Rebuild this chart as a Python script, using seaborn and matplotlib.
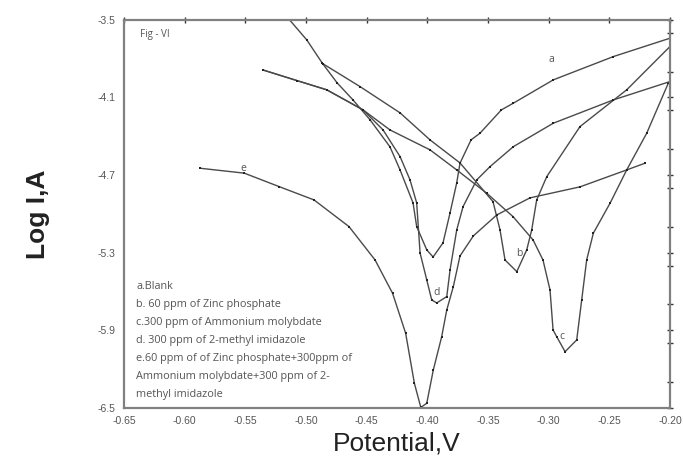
import numpy as np
import pandas as pd
import seaborn as sns
import matplotlib.pyplot as plt
from matplotlib.ticker import MultipleLocator

# Curvas de polarizacion (potencial en V, log I)
a_v = [-0.5136, -0.4994, -0.4868, -0.4744, -0.4613, -0.4472, -0.4308, -0.4225, -0.4118, -0.4088, -0.4005, -0.3953,
       -0.3871, -0.3813, -0.3758, -0.3731, -0.3640, -0.3566, -0.3390, -0.3291, -0.2962, -0.2467, -0.2000]
a_logi = [-3.50, -3.655, -3.832, -3.987, -4.119, -4.273, -4.482, -4.660, -4.915, -5.098, -5.278, -5.333,
          -5.224, -4.992, -4.760, -4.608, -4.428, -4.376, -4.196, -4.144, -3.964, -3.784, -3.642]

b_v = [-0.4860, -0.4555, -0.4225, -0.3978, -0.3731, -0.3459, -0.3401, -0.3360, -0.3263,
       -0.3181, -0.3140, -0.3099, -0.3016, -0.2742, -0.2357, -0.2000]
b_logi = [-3.840, -4.016, -4.219, -4.428, -4.606, -4.905, -5.124, -5.356, -5.446,
          -5.278, -5.124, -4.892, -4.712, -4.325, -4.041, -3.706]

c_v = [-0.5357, -0.5077, -0.4829, -0.4530, -0.4308, -0.3978, -0.3758, -0.3511, -0.3294, -0.3129, -0.3047,
       -0.2989, -0.2964, -0.2934, -0.2865, -0.2769, -0.2728, -0.2687, -0.2632, -0.2494, -0.2357, -0.2192, -0.2014]
c_logi = [-3.887, -3.969, -4.041, -4.196, -4.351, -4.505, -4.660, -4.840, -5.021, -5.201, -5.356,
          -5.588, -5.897, -5.949, -6.065, -5.974, -5.665, -5.356, -5.149, -4.917, -4.660, -4.376, -3.989]

d_v = [-0.5357, -0.5077, -0.4829, -0.4530, -0.4365, -0.4225, -0.4143, -0.4088, -0.4060, -0.4005, -0.3964, -0.3923,
       -0.3840, -0.3813, -0.3758, -0.3706, -0.3593, -0.3483, -0.3291, -0.2962, -0.2467, -0.2000]
d_logi = [-3.887, -3.969, -4.041, -4.196, -4.351, -4.557, -4.737, -4.915, -5.302, -5.510, -5.665, -5.688,
          -5.639, -5.433, -5.124, -4.944, -4.737, -4.634, -4.480, -4.299, -4.119, -3.977]

e_v = [-0.5874, -0.5509, -0.5222, -0.4934, -0.4646, -0.4431, -0.4287, -0.4179, -0.4107, -0.4054,
       -0.4005, -0.3951, -0.3882, -0.3840, -0.3786, -0.3731, -0.3621, -0.3428, -0.3154, -0.2742, -0.2357, -0.2206]
e_logi = [-4.647, -4.685, -4.789, -4.892, -5.098, -5.356, -5.613, -5.922, -6.309, -6.495,
          -6.464, -6.206, -5.949, -5.742, -5.562, -5.325, -5.170, -5.008, -4.876, -4.791, -4.660, -4.608]

curvas = {'a': (a_v, a_logi), 'b': (b_v, b_logi), 'c': (c_v, c_logi), 'd': (d_v, d_logi), 'e': (e_v, e_logi)}

# Etiquetas de las curvas
etiquetas = ['a', 'b', 'c', 'd', 'e']
etiq_v = [-0.2975, -0.3239, -0.2892, -0.3928, -0.5516]
etiq_logi = [-3.809, -5.304, -5.949, -5.605, -4.647]

x_ticks = [-0.65, -0.60, -0.55, -0.50, -0.45, -0.40, -0.35, -0.30, -0.25, -0.20]
y_ticks = [-3.5, -4.1, -4.7, -5.3, -5.9, -6.5]

leyenda = ['a.Blank',
           'b. 60 ppm of Zinc phosphate',
           'c.300 ppm of Ammonium molybdate',
           'd. 300 ppm of 2-methyl imidazole',
           'e.60 ppm of of Zinc phosphate+300ppm of',
           'Ammonium molybdate+300 ppm of 2-',
           'methyl imidazole']

sns.set_style('white')
plt.rcParams['font.family'] = ['Liberation Sans', 'DejaVu Sans']

fig = plt.figure(figsize=(6.83, 4.61), dpi=100)
ax = fig.add_axes([0.1816, 0.115, 0.7994, 0.842])

for nombre, (v, li) in curvas.items():
    df = pd.DataFrame({'Potencial': v, 'LogI': li})
    sns.lineplot(data=df, x='Potencial', y='LogI', sort=False, estimator=None, ax=ax,
                 color='#4a4a4a', linewidth=1.0, marker='s', markersize=1.5,
                 markeredgewidth=0, markerfacecolor='#222222')

for t, v, li in zip(etiquetas, etiq_v, etiq_logi):
    ax.text(v, li, t, fontsize=7.5, color='#555555', ha='center', va='center', family='Open Sans')

ax.text(-0.637, -3.61, 'Fig - VI', fontsize=7, color='#555555', va='center', family='Open Sans')
for i, linea in enumerate(leyenda):
    ax.text(-0.640, -5.56 - i * 0.139, linea, fontsize=7.8, color='#555555', va='center',
            family='Open Sans')

ax.set_xlim(-0.65, -0.20)
ax.set_ylim(-6.5, -3.5)
ax.set_xticks(x_ticks)
ax.set_xticklabels(['%.2f' % x for x in x_ticks])
ax.set_yticks(y_ticks)
ax.set_yticklabels(['%.1f' % y for y in y_ticks])
ax.yaxis.set_minor_locator(MultipleLocator(0.3))
ax.tick_params(axis='both', which='both', direction='inout', colors='#333333', labelcolor='#555555',
               labelsize=7.5, top=True, right=True, length=5, width=1)
ax.tick_params(which='minor', length=4)
for s in ax.spines.values():
    s.set_color('#808080')
    s.set_linewidth(1.6)

ax.set_xlabel('Potential,V', fontsize=19, color='#222222', labelpad=4)
ax.set_ylabel('Log I,A', fontsize=19, fontweight='bold', color='#222222', labelpad=34)

plt.savefig('out.png', dpi=100)
